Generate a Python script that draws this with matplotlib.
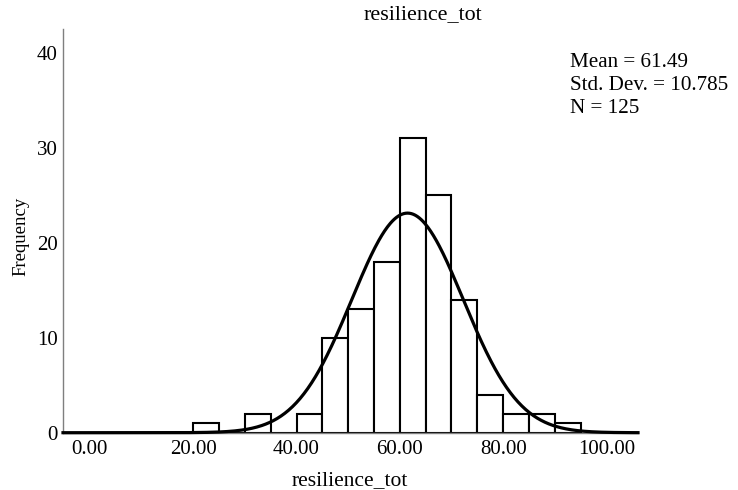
import numpy as np
import matplotlib
matplotlib.use("Agg")
import matplotlib.pyplot as plt

# ---- data ----
bin_edges = [20, 25, 30, 35, 40, 45, 50, 55, 60, 65, 70, 75, 80, 85, 90, 95]
counts = [1, 0, 2, 0, 2, 10, 13, 18, 31, 25, 14, 4, 2, 2, 1]
mean_val = 61.49
std_val = 10.785
n_val = 125
x_ticks = [0, 20, 40, 60, 80, 100]
x_tick_labels = ["0.00", "20.00", "40.00", "60.00", "80.00", "100.00"]
y_ticks = [0, 10, 20, 30, 40]
title_text = "resilience_tot"
xlabel_text = "resilience_tot"
ylabel_text = "Frequency"

plt.rcParams['font.family'] = ['Liberation Serif', 'DejaVu Serif']

W, H = 738, 490
fig = plt.figure(figsize=(W / 100, H / 100), dpi=100)
ax = fig.add_axes([63 / W, 1 - 432.7 / H, (638 - 63) / W, (432.7 - 29.5) / H])

xmin, xmax = -5.2, 106.1
ax.set_xlim(xmin, xmax)
ax.set_ylim(0, 42.45)

lefts = bin_edges[:-1]
widths = np.diff(bin_edges)
ax.bar(lefts, counts, width=widths, align='edge', facecolor='white',
       edgecolor='black', linewidth=1.5, zorder=2)

binw = widths[0]
xs = np.linspace(xmin, xmax, 600)
ys = n_val * binw * np.exp(-0.5 * ((xs - mean_val) / std_val) ** 2) / (std_val * np.sqrt(2 * np.pi))
ax.plot(xs, ys, color='black', linewidth=2.3, zorder=3, clip_on=False)

for s in ['top', 'right']:
    ax.spines[s].set_visible(False)
for s in ['left', 'bottom']:
    ax.spines[s].set_color('#7f7f7f')
    ax.spines[s].set_linewidth(1.0)

ax.set_xticks(x_ticks)
ax.set_xticklabels(x_tick_labels)
ax.set_yticks(y_ticks)
ax.tick_params(axis='both', length=0, labelsize=15)
ax.tick_params(axis='x', pad=5)
ax.tick_params(axis='y', pad=4)

fig.text(423 / W, 1 - 15 / H, title_text, ha='center', va='center', fontsize=15.8)
fig.text(350 / W, 1 - 485 / H, xlabel_text, ha='center', va='baseline', fontsize=15.5)
fig.text(21 / W, 1 - 236 / H, ylabel_text, ha='center', va='center', rotation=90, fontsize=13.5)

stats = [f"Mean = {mean_val:.2f}", f"Std. Dev. = {std_val:.3f}", f"N = {n_val}"]
for i, s in enumerate(stats):
    fig.text(570 / W, 1 - (67 + 23 * i) / H, s, ha='left', va='baseline', fontsize=15.2)

fig.savefig("out.png", dpi=100, facecolor='white')
